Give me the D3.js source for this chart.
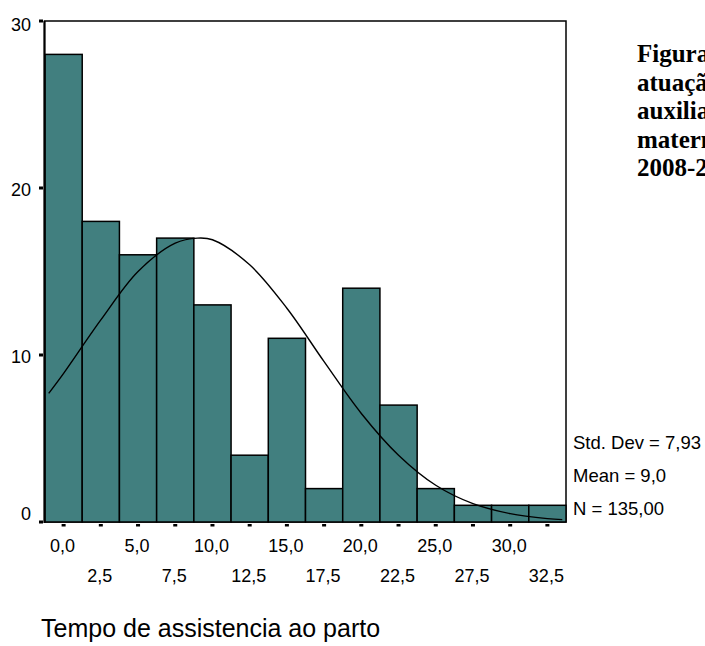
<!DOCTYPE html>
<html>
<head>
<meta charset="utf-8">
<script src="https://cdn.jsdelivr.net/npm/d3@7"></script>
<style>
	body { margin: 0; background: #fff; }
	svg { display: block; }
	.tick-label { font-family: "Liberation Sans", Arial, sans-serif; font-size: 18px; fill: #000; }
	.stats { font-family: "Liberation Sans", Arial, sans-serif; font-size: 18.5px; fill: #000; }
	.caption { font-family: "Liberation Serif", "Times New Roman", serif; font-size: 25px; font-weight: bold; fill: #000; }
	.x-title { font-family: "Liberation Sans", Arial, sans-serif; font-size: 25px; fill: #000; }
</style>
</head>
<body>
<svg id="chart" width="705" height="646"></svg>
<script>
// bins of 2.5 (centres) and their counts
const binCenters = [0, 2.5, 5, 7.5, 10, 12.5, 15, 17.5, 20, 22.5, 25, 27.5, 30, 32.5];
const counts = [28, 18, 16, 17, 13, 4, 11, 2, 14, 7, 2, 1, 1, 1];
const xTickLabels = ["0,0", "2,5", "5,0", "7,5", "10,0", "12,5", "15,0", "17,5", "20,0", "22,5", "25,0", "27,5", "30,0", "32,5"];
const yTicks = [0, 10, 20, 30];

// normal curve
const curveX = [-1, 0, 2.5, 5, 7.5, 9, 10, 12.5, 15, 17.5, 20, 22.5, 25, 27.5, 30, 32.5, 33.5];
const curveY = [7.7, 8.9, 12.1, 15.0, 16.7, 17.0, 16.9, 15.4, 12.8, 9.6, 6.5, 4.0, 2.2, 1.1, 0.5, 0.2, 0.14];

const statsLines = ["Std. Dev = 7,93", "Mean = 9,0", "N = 135,00"];
const captionLines = ["Figura 2. Tempo de", "atuação do", "auxiliar de", "maternidade,", "2008-2009"];
const xTitle = "Tempo de assistencia ao parto";

const binWidth = 2.5;
const plotLeft = 45, plotRight = 566, plotTop = 21, plotBottom = 522;

const svg = d3.select('#chart');

const xScale = d3.scaleLinear()
	.domain([binCenters[0] - binWidth / 2, binCenters[binCenters.length - 1] + binWidth / 2])
	.range([plotLeft, plotRight]);

const yScale = d3.scaleLinear()
	.domain([0, 30])
	.range([plotBottom, plotTop]);

// frame
svg.append('rect')
	.attr('x', plotLeft - 0.5)
	.attr('y', plotTop)
	.attr('width', plotRight - plotLeft + 0.5)
	.attr('height', plotBottom - plotTop)
	.attr('fill', 'none')
	.attr('stroke', '#000')
	.attr('stroke-width', 1.5);

// bars
svg.selectAll('.bar')
	.data(binCenters)
	.enter()
	.append('rect')
	.attr('class', 'bar')
	.attr('x', (d) => xScale(d - binWidth / 2))
	.attr('width', (d) => xScale(d + binWidth / 2) - xScale(d - binWidth / 2))
	.attr('y', (d, i) => yScale(counts[i]))
	.attr('height', (d, i) => yScale(0) - yScale(counts[i]))
	.attr('fill', '#417f7f')
	.attr('stroke', '#000')
	.attr('stroke-width', 1.5);

// normal curve
svg.append('path')
	.datum(curveX.map((x, i) => [x, curveY[i]]))
	.attr('fill', 'none')
	.attr('stroke', '#000')
	.attr('stroke-width', 1.4)
	.attr('d', d3.line()
		.x((d) => xScale(d[0]))
		.y((d) => yScale(d[1]))
		.curve(d3.curveCatmullRom));

// left axis line
svg.append('line')
	.attr('x1', plotLeft - 0.5).attr('x2', plotLeft - 0.5)
	.attr('y1', plotTop).attr('y2', plotBottom + 1)
	.attr('stroke', '#000')
	.attr('stroke-width', 2);

// y ticks and labels
svg.selectAll('.y-tick')
	.data(yTicks)
	.enter()
	.append('rect')
	.attr('class', 'y-tick')
	.attr('x', plotLeft - 6)
	.attr('y', (d) => yScale(d) - 1.5)
	.attr('width', 4)
	.attr('height', 3)
	.attr('fill', '#000');

svg.selectAll('.y-label')
	.data(yTicks)
	.enter()
	.append('text')
	.attr('class', 'tick-label')
	.attr('x', 31)
	.attr('y', (d) => Math.min(Math.max(yScale(d) + 2, 25), 514))
	.attr('dy', '0.36em')
	.attr('text-anchor', 'end')
	.text((d) => d);

// x ticks and labels (two rows)
svg.selectAll('.x-tick')
	.data(binCenters)
	.enter()
	.append('rect')
	.attr('class', 'x-tick')
	.attr('x', (d) => xScale(d) - 2)
	.attr('y', plotBottom + 2)
	.attr('width', 4)
	.attr('height', 2.5)
	.attr('fill', '#000');

svg.selectAll('.x-label')
	.data(binCenters)
	.enter()
	.append('text')
	.attr('class', 'tick-label')
	.attr('x', (d) => xScale(d) - 1)
	.attr('y', (d, i) => i % 2 === 0 ? 552 : 582)
	.attr('text-anchor', 'middle')
	.text((d, i) => xTickLabels[i]);

// stats
statsLines.forEach((t, i) => {
	svg.append('text')
		.attr('class', 'stats')
		.attr('x', 573)
		.attr('y', 449 + i * 33)
		.text(t);
});

// caption on the right (cut by the edge, as in the original)
captionLines.forEach((t, i) => {
	svg.append('text')
		.attr('class', 'caption')
		.attr('x', 637)
		.attr('y', 62 + i * 28.6)
		.text(t);
});

svg.append('text')
	.attr('class', 'x-title')
	.attr('x', 41)
	.attr('y', 637)
	.text(xTitle);
</script>
</body>
</html>
